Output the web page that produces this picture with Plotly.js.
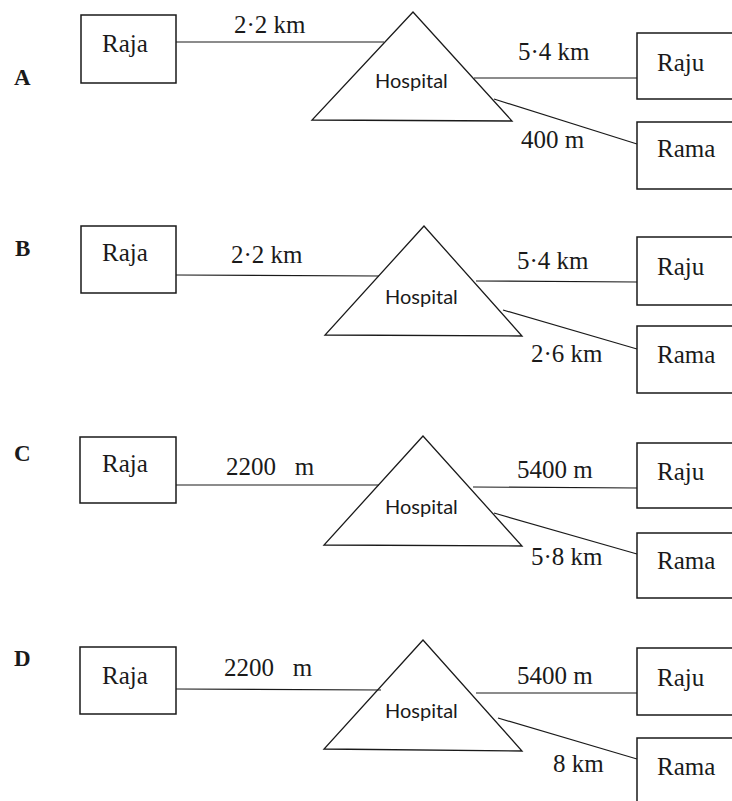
<!DOCTYPE html>
<html>
<head>
<meta charset="utf-8">
<script src="https://cdn.plot.ly/plotly-3.0.1.min.js"></script>
<style>html,body{margin:0;padding:0;background:#fff;}#chart{width:732px;height:801px;}</style>
</head>
<body>
<div id="chart"></div>
<script>
// ---- data ----
var options = ["A", "B", "C", "D"];
var placeLeft = "Raja";
var placeCentre = "Hospital";
var placeTop = "Raju";
var placeBottom = "Rama";
var rajaToHospital = ["2·2 km", "2·2 km", "2200\u00a0\u00a0\u00a0m", "2200\u00a0\u00a0\u00a0m"];
var hospitalToRaju = ["5·4 km", "5·4 km", "5400 m", "5400 m"];
var hospitalToRama = ["400 m", "2·6 km", "5·8 km", "8 km"];

// ---- layout geometry per panel (pixel-like coordinates) ----
var geo = [
  {letter:[22,77], raja:[81,15,176,83], rajaT:[125,43], l1:[176,42,384,42], lb1:[270,24],
   tri:[[413,12],[312,120],[512,121]], hosp:[411,80], l2:[474,78,637,78], lb2:[554,51],
   raju:[637,33,770,99], rajuT:[681,62], l3:[494,99,637,144], lb3:[553,139],
   rama:[637,122,770,189], ramaT:[686,148]},
  {letter:[22,248], raja:[81,226,176,293], rajaT:[125,252], l1:[176,275,379,276], lb1:[267,254],
   tri:[[424,226],[325,335],[522,336]], hosp:[421,296], l2:[476,281,637,282], lb2:[553,260],
   raju:[637,237,770,305], rajuT:[681,266], l3:[503,310,637,349], lb3:[567,353],
   rama:[637,326,770,393], ramaT:[686,354]},
  {letter:[22,453], raja:[80,437,176,503], rajaT:[125,463], l1:[176,485,379,485], lb1:[270,466],
   tri:[[423,436],[324,545],[522,546]], hosp:[421,506], l2:[473,487,637,488], lb2:[555,469],
   raju:[637,443,770,508], rajuT:[681,471], l3:[494,513,637,554], lb3:[567,556],
   rama:[637,533,770,598], ramaT:[686,560]},
  {letter:[22,658], raja:[80,647,176,714], rajaT:[125,675], l1:[176,689,381,690], lb1:[268,667],
   tri:[[423,640],[324,749],[522,751]], hosp:[421,710], l2:[476,693,637,693], lb2:[555,675],
   raju:[637,648,770,715], rajuT:[681,677], l3:[498,718,637,759], lb3:[578,763],
   rama:[637,738,770,840], ramaT:[686,766]}
];

var ink = "#1a1a1a";
var serif = "'Liberation Serif', 'Times New Roman', serif";
var shapes = [], ann = [];

function rect(b, w) {
  shapes.push({type:"rect", xref:"x", yref:"y", x0:b[0], y0:b[1], x1:b[2], y1:b[3],
    line:{color:ink, width:w}, fillcolor:"rgba(0,0,0,0)"});
}
function seg(l) {
  shapes.push({type:"line", xref:"x", yref:"y", x0:l[0], y0:l[1], x1:l[2], y1:l[3],
    line:{color:ink, width:1.2}});
}
function txt(p, s, size, fam, bold) {
  ann.push({xref:"x", yref:"y", x:p[0], y:p[1], text: bold ? "<b>"+s+"</b>" : s, showarrow:false,
    xanchor:"center", yanchor:"middle", font:{family:fam, size:size, color:ink}});
}

for (var i = 0; i < options.length; i++) {
  var g = geo[i];
  txt(g.letter, options[i], 23, serif, true);
  rect(g.raja, 1.5);
  txt(g.rajaT, placeLeft, 25, serif);
  seg(g.l1);
  txt(g.lb1, rajaToHospital[i], 25, serif);
  var t = g.tri;
  shapes.push({type:"path", xref:"x", yref:"y",
    path:"M"+t[0][0]+","+t[0][1]+" L"+t[1][0]+","+t[1][1]+" L"+t[2][0]+","+t[2][1]+" Z",
    line:{color:ink, width:1.3}, fillcolor:"rgba(0,0,0,0)"});
  txt(g.hosp, placeCentre, 20, "Lato, 'Open Sans', sans-serif");
  seg(g.l2);
  txt(g.lb2, hospitalToRaju[i], 25, serif);
  rect(g.raju, 1.5);
  txt(g.rajuT, placeTop, 25, serif);
  seg(g.l3);
  txt(g.lb3, hospitalToRama[i], 25, serif);
  rect(g.rama, 1.5);
  txt(g.ramaT, placeBottom, 25, serif);
}

var layout = {
  width:732, height:801, margin:{l:0, r:0, t:0, b:0},
  paper_bgcolor:"#fff", plot_bgcolor:"#fff", showlegend:false,
  xaxis:{range:[0,732], visible:false, fixedrange:true},
  yaxis:{range:[801,0], visible:false, fixedrange:true},
  shapes:shapes, annotations:ann
};
Plotly.newPlot("chart", [{x:[], y:[], type:"scatter", mode:"markers", hoverinfo:"skip"}], layout,
  {staticPlot:true, displayModeBar:false});
</script>
</body>
</html>
